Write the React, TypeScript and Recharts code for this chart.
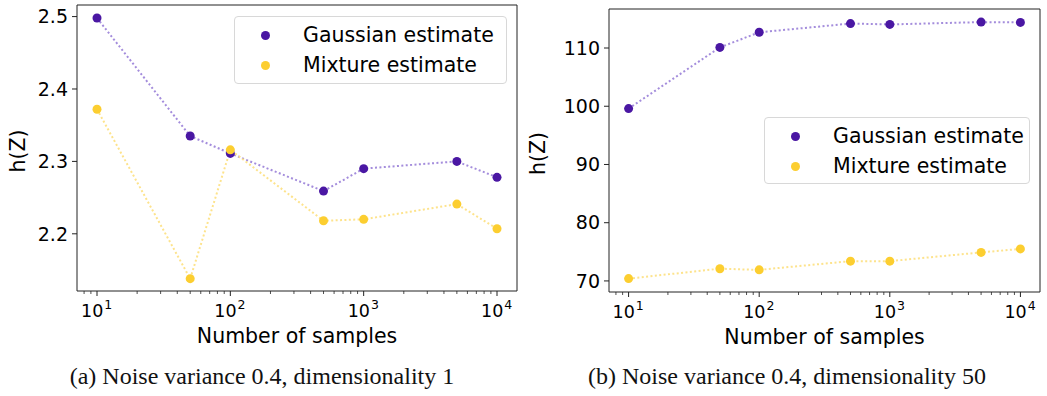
import React from "react";
import {
  Legend,
  Line,
  LineChart,
  ReferenceArea,
  XAxis,
  YAxis,
} from "recharts";

const samples = [10, 50, 100, 500, 1000, 5000, 10000];
const gaussA = [2.498, 2.335, 2.311, 2.259, 2.29, 2.3, 2.278];
const mixA = [2.372, 2.138, 2.316, 2.218, 2.22, 2.241, 2.207];
const gaussB = [99.6, 110.1, 112.7, 114.2, 114.05, 114.45, 114.4];
const mixB = [70.4, 72.1, 71.9, 73.4, 73.4, 74.9, 75.5];

const yTicksA = [2.2, 2.3, 2.4, 2.5];
const yTicksB = [70, 80, 90, 100, 110];
const majorX = [10, 100, 1000, 10000];
const minorX = [
  8, 9, 20, 30, 40, 50, 60, 70, 80, 90, 200, 300, 400, 500, 600, 700, 800,
  900, 2000, 3000, 4000, 5000, 6000, 7000, 8000, 9000,
];
const seriesNames = ["Gaussian estimate", "Mixture estimate"];

const PURPLE = "#4a17a3";
const PURPLE_LINE = "#a48ddc";
const YELLOW = "#fcce30";
const YELLOW_LINE = "#fde38c";
const SANS = "'DejaVu Sans', sans-serif";
const X_DOMAIN = [Math.pow(10, 0.85), Math.pow(10, 4.15)];

const XTick = (props: any) => {
  const { x, y, payload } = props;
  const v = payload.value;
  const major = majorX.includes(v);
  if (!major) {
    return <line x1={x} x2={x} y1={y} y2={y + 3} stroke="#222" strokeWidth={0.8} />;
  }
  const exp = Math.round(Math.log10(v));
  return (
    <g>
      <line x1={x} x2={x} y1={y} y2={y + 5} stroke="#222" strokeWidth={1} />
      <text x={x - 16} y={y + 26} fontFamily={SANS} fontSize={17.5} fill="#000">
        10
        <tspan dx={1} dy={-8} fontSize={12.5}>
          {exp}
        </tspan>
      </text>
    </g>
  );
};

const LegendBox = ({ box }: { box: { w: number; h: number } }) => (
  <div
    style={{
      width: box.w,
      height: box.h,
      boxSizing: "border-box",
      border: "1px solid #d8d8d8",
      borderRadius: 4,
      background: "rgba(255,255,255,0.8)",
      position: "relative",
      fontFamily: SANS,
      fontSize: 20.5,
      color: "#000",
    }}
  >
    {seriesNames.map((name, i) => (
      <div key={name}>
        <div
          style={{
            position: "absolute",
            left: 25.5,
            top: 13.5 + i * 30,
            width: 9,
            height: 9,
            borderRadius: "50%",
            background: i === 0 ? PURPLE : YELLOW,
          }}
        />
        <div
          style={{
            position: "absolute",
            left: 68,
            top: 3 + i * 30,
            lineHeight: "30px",
            whiteSpace: "nowrap",
          }}
        >
          {name}
        </div>
      </div>
    ))}
  </div>
);

type PanelProps = {
  left: number;
  width: number;
  top: number;
  yWidth: number;
  rightMargin: number;
  xAxisHeight: number;
  gauss: number[];
  mix: number[];
  yDomain: number[];
  yTicks: number[];
  yFmt: (v: number) => string;
  legend: { x: number; y: number; w: number; h: number };
  caption: string;
  xLabelCenter: number;
};

function Panel(p: PanelProps) {
  const data = samples.map((n, i) => ({ n, g: p.gauss[i], m: p.mix[i] }));
  return (
    <div style={{ position: "absolute", left: p.left, top: 0, width: p.width, height: 396 }}>
      <LineChart
        width={p.width}
        height={396}
        data={data}
        margin={{ top: p.top, right: p.rightMargin, left: 0, bottom: 0 }}
      >
        <XAxis
          dataKey="n"
          type="number"
          scale="log"
          domain={X_DOMAIN}
          allowDataOverflow
          ticks={[...minorX, ...majorX]}
          interval={0}
          tick={<XTick />}
          tickLine={false}
          tickSize={0}
          tickMargin={0}
          height={p.xAxisHeight}
          axisLine={false}
          label={{
            value: "Number of samples",
            position: "insideTop",
            offset: 37,
            fontFamily: SANS,
            fontSize: 20.5,
            fill: "#000",
          }}
        />
        <YAxis
          type="number"
          domain={p.yDomain}
          allowDataOverflow
          ticks={p.yTicks}
          interval={0}
          width={p.yWidth}
          tickFormatter={p.yFmt}
          tickSize={5}
          tickMargin={4}
          tick={{ fontFamily: SANS, fontSize: 19, fill: "#000" }}
          tickLine={{ stroke: "#222" }}
          axisLine={false}
          label={{
            content: (lp: any) => {
              const vb = lp.viewBox;
              const cx = vb.x + 18;
              const cy = vb.y + vb.height / 2 + 3;
              return (
                <text
                  x={cx}
                  y={cy}
                  transform={`rotate(-90 ${cx} ${cy})`}
                  textAnchor="middle"
                  dominantBaseline="central"
                  fontFamily={SANS}
                  fontSize={20.5}
                  fill="#000"
                >
                  h(Z)
                </text>
              );
            },
          }}
        />
        <ReferenceArea
          x1={X_DOMAIN[0]}
          x2={X_DOMAIN[1]}
          y1={p.yDomain[0]}
          y2={p.yDomain[1]}
          fill="none"
          fillOpacity={0}
          stroke="#222"
          strokeWidth={1}
          ifOverflow="visible"
        />
        <Legend
          layout="vertical"
          align="center"
          verticalAlign="middle"
          wrapperStyle={{ left: p.legend.x, top: p.legend.y, width: p.legend.w, height: p.legend.h }}
          content={() => <LegendBox box={p.legend} />}
        />
        <Line
          dataKey="g"
          name={seriesNames[0]}
          stroke={PURPLE_LINE}
          strokeWidth={2}
          strokeDasharray="2 2.4"
          dot={{ r: 4.5, fill: PURPLE, stroke: "none" }}
          activeDot={false}
          isAnimationActive={false}
        />
        <Line
          dataKey="m"
          name={seriesNames[1]}
          stroke={YELLOW_LINE}
          strokeWidth={2}
          strokeDasharray="2 2.4"
          dot={{ r: 4.5, fill: YELLOW, stroke: "none" }}
          activeDot={false}
          isAnimationActive={false}
        />
      </LineChart>
      <div
        style={{
          position: "absolute",
          left: 0,
          width: p.xLabelCenter * 2,
          top: 362,
          textAlign: "center",
          fontFamily: "'Liberation Serif', 'Times New Roman', serif",
          fontSize: 24,
          lineHeight: "28px",
          color: "#111",
          whiteSpace: "nowrap",
        }}
      >
        {p.caption}
      </div>
    </div>
  );
}

export default function App() {
  return (
    <div style={{ position: "absolute", left: 0, top: 0, width: 1047, height: 396, background: "#fff" }}>
      <Panel
        left={0}
        width={530}
        top={5}
        yWidth={77}
        rightMargin={13}
        xAxisHeight={105}
        gauss={gaussA}
        mix={mixA}
        yDomain={[2.121, 2.516]}
        yTicks={yTicksA}
        yFmt={(v) => v.toFixed(1)}
        legend={{ x: 234, y: 16, w: 273, h: 68 }}
        caption="(a) Noise variance 0.4, dimensionality 1"
        xLabelCenter={262}
      />
      <Panel
        left={520}
        width={527}
        top={9}
        yWidth={89}
        rightMargin={7}
        xAxisHeight={104}
        gauss={gaussB}
        mix={mixB}
        yDomain={[68.1, 116.7]}
        yTicks={yTicksB}
        yFmt={(v) => String(v)}
        legend={{ x: 244, y: 117, w: 266, h: 67 }}
        caption="(b) Noise variance 0.4, dimensionality 50"
        xLabelCenter={267}
      />
    </div>
  );
}
